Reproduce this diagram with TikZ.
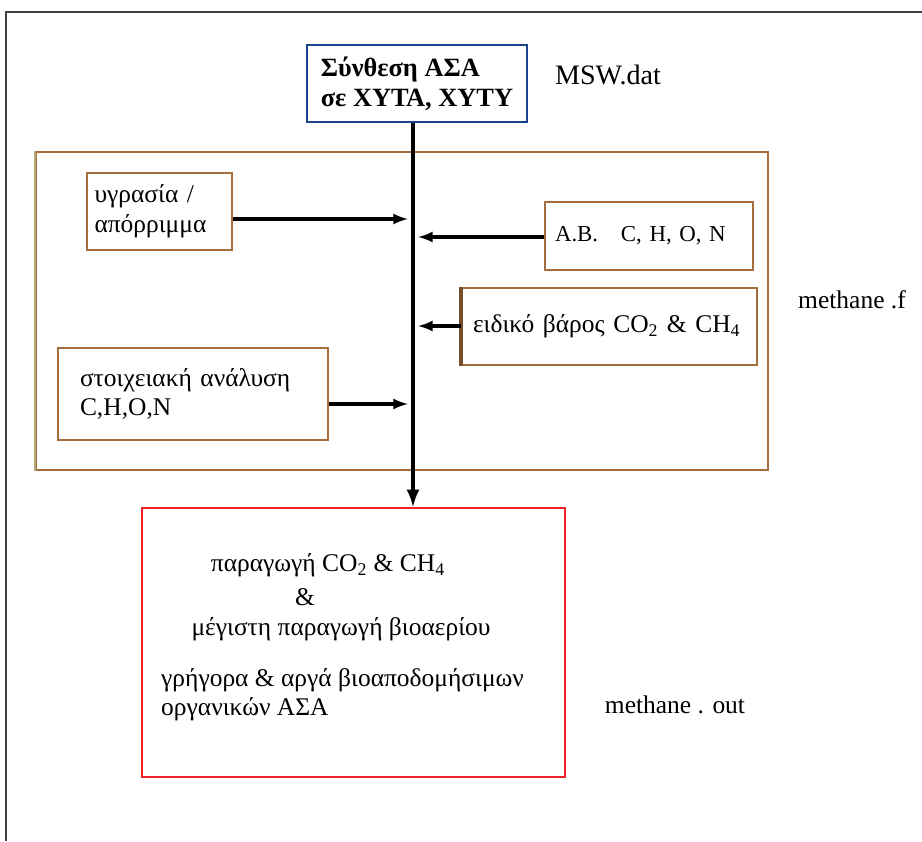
\documentclass[tikz,border=0pt]{standalone}
\usepackage{fontspec}
\setmainfont{Liberation Serif}
\tikzset{>=latex}
\definecolor{framebrown}{RGB}{165,110,60}
\definecolor{frameolive}{RGB}{175,170,120}
\definecolor{titleblue}{RGB}{25,65,140}
\definecolor{outred}{RGB}{235,35,40}
\tikzset{
  txt/.style = {font=\fontsize{14.5}{16.8}\selectfont},
  databox/.style = {txt, draw=framebrown, line width=1.2pt, align=left,
    inner sep=0pt},
  flow/.style = {->, line width=1.8pt, shorten >=3pt}
}

\begin{document}
\begin{tikzpicture}
  \useasboundingbox (0,0) rectangle (18.44,16.82);
  \draw[darkgray, line width=1.2pt] (0.12,0) -- (0.12,16.58) -- (18.44,16.58);
  % input file
  \node[draw=titleblue, line width=1.6pt, minimum width=4.4cm, minimum height=1.54cm,
    font=\fontsize{15}{17}\selectfont\bfseries, align=left] (syn) at (8.34,15.15)
    {Σύνθεση ΑΣΑ\\σε ΧΥΤΑ, ΧΥΤΥ};
  \node[font=\fontsize{16}{18}\selectfont] (mswdat) at (12.16,15.32) {MSW.dat};
  % program frame
  \node[draw=framebrown, line width=1pt, minimum width=14.64cm, minimum height=6.36cm]
    (frame) at (8.04,10.6) {};
  \draw[frameolive, line width=1pt] (frame.south west) -- (frame.north west);
  \node[txt] (methf) at (17.04,10.82) {methane .f};
  \node[databox, minimum width=2.9cm, minimum height=1.54cm, text width=2.6cm]
    (moist) at (3.19,12.59) {υγρασία /\\απόρριμμα};
  \node[databox, minimum width=4.16cm, minimum height=1.36cm, text width=3.76cm,
    font=\fontsize{13}{15}\selectfont] (ab) at (12.98,12.1) {A.B.\ \ \ C, H, O, N};
  \node[databox, minimum width=5.9cm, minimum height=1.54cm, text width=5.46cm]
    (dens) at (12.19,10.29) {ειδικό βάρος CO\textsubscript{2} \& CH\textsubscript{4}};
  \draw[framebrown!70!black, line width=1.8pt] (dens.south west) -- (dens.north west);
  \node[databox, minimum width=5.4cm, minimum height=1.84cm, text width=4.52cm]
    (elem) at (3.86,8.94) {στοιχειακή ανάλυση\\C,H,O,N};
  % output
  \node[draw=outred, line width=1.6pt, minimum width=8.46cm, minimum height=5.38cm]
    (out) at (7.07,3.97) {};
  \node[txt] (prod) at (6.56,5.52) {παραγωγή CO\textsubscript{2} \& CH\textsubscript{4}};
  \node[txt] (amp) at (6.1,4.87) {\&};
  \node[txt] (maxbio) at (6.82,4.24) {μέγιστη παραγωγή βιοαερίου};
  \node[txt, anchor=west, align=left] (bio) at (3.1,2.93)
    {γρήγορα \& αργά βιοαποδομήσιμων\\οργανικών ΑΣΑ};
  \node[txt] (methout) at (13.5,2.72) {methane . out};
  % spine
  \coordinate (s1) at (8.26,12.44);
  \coordinate (s2) at (8.26,12.08);
  \coordinate (s3) at (8.26,10.3);
  \coordinate (s4) at (8.26,8.74);
  \draw[->, line width=2.3pt] (syn.south -| s1) -- (out.north -| s1);
  \draw[flow] (moist.east |- s1) -- (s1);
  \draw[flow] (ab.west |- s2) -- (s2);
  \draw[flow] (dens.west |- s3) -- (s3);
  \draw[flow] (elem.east |- s4) -- (s4);
\end{tikzpicture}
\end{document}
